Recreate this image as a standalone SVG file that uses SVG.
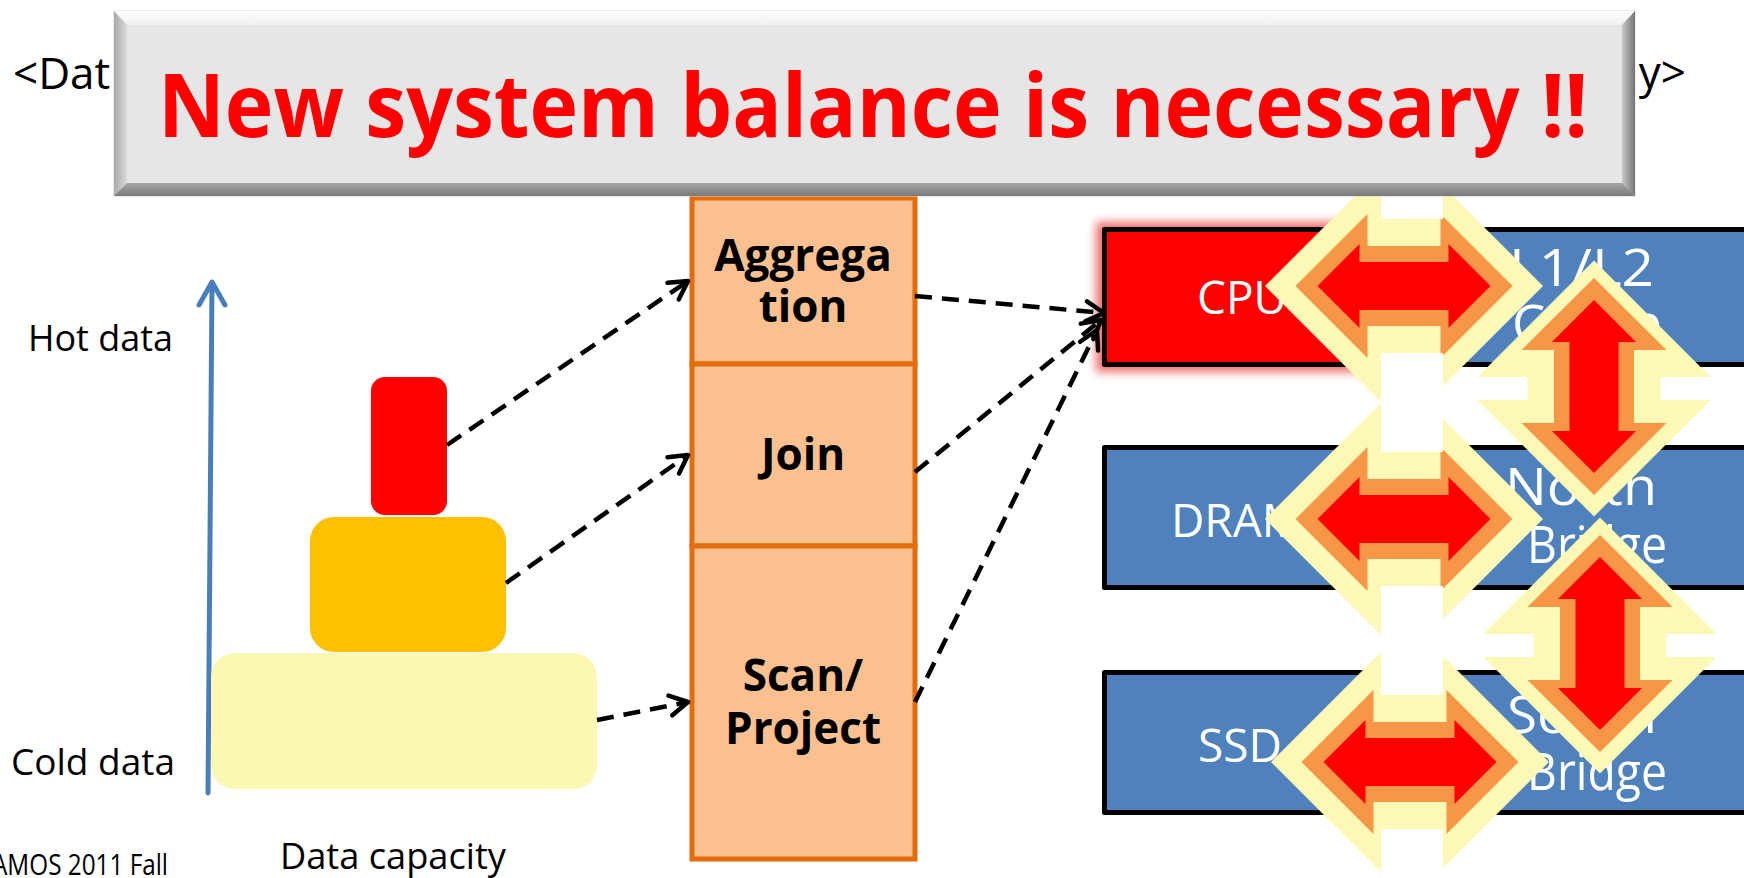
<svg xmlns="http://www.w3.org/2000/svg" xmlns:xlink="http://www.w3.org/1999/xlink" width="1744" height="878" viewBox="0 0 1744 878">
  <style>
    .lbl { font-family: "Open Sans", "Noto Sans", "DejaVu Sans", sans-serif; fill: #000; }
    .side { font-size: 37px; }
    .op { font-family: "Open Sans", "Noto Sans", sans-serif; font-weight: bold; font-size: 44px; fill: #000; text-anchor: middle; }
    .hw { font-family: "Open Sans", "Noto Sans", sans-serif; font-size: 46px; fill: #fff; text-anchor: middle; }
    .hwr { font-family: "Open Sans", "Noto Sans", sans-serif; font-size: 51px; fill: #fff; }
    .box { stroke: #000; stroke-width: 5; stroke-linejoin: round; }
    .blue { fill: #4F81BD; }
    .cell { fill: #FAC090; stroke: #E46C0A; stroke-width: 5; }
    .dash { fill: none; stroke: #000; stroke-width: 4.5; stroke-dasharray: 17 10; marker-end: url(#open); }
    .yel { fill: #FCF8B5; }
    .org { fill: #F79646; }
    .red { fill: #FF0000; }
    .gap { fill: #fff; }
  </style>
  <defs>
    <marker id="open" viewBox="-22 -13 26 26" refX="0" refY="0" markerWidth="26" markerHeight="26" markerUnits="userSpaceOnUse" orient="auto">
      <path d="M-18,-10 L0,0 L-18,10" fill="none" stroke="#000" stroke-width="4.5" stroke-dasharray="none" stroke-linecap="round" stroke-linejoin="round"/>
    </marker>
    <filter id="soft" x="-20%" y="-30%" width="140%" height="160%">
      <feGaussianBlur stdDeviation="5"/>
    </filter>
    <linearGradient id="bvTop" x1="0" y1="0" x2="0" y2="1"><stop offset="0" stop-color="#FFFFFF"/><stop offset="1" stop-color="#F0F0F0"/></linearGradient>
    <linearGradient id="bvLeft" x1="0" y1="0" x2="1" y2="0"><stop offset="0" stop-color="#A9A9A9"/><stop offset="1" stop-color="#DADADA"/></linearGradient>
    <linearGradient id="bvRight" x1="0" y1="0" x2="1" y2="0"><stop offset="0" stop-color="#C9C9C9"/><stop offset="1" stop-color="#737373"/></linearGradient>
    <linearGradient id="bvBottom" x1="0" y1="0" x2="0" y2="1"><stop offset="0" stop-color="#A5A5A5"/><stop offset="1" stop-color="#7A7A7A"/></linearGradient>
    <!-- horizontal double arrow: glow, outline, body -->
    <g id="harrow">
      <polygon class="yel" points="-139,0 0,-139 139,0 0,139"/>
      <polygon class="org" points="-108.5,0 -36.5,-72 -36.5,-40 36.5,-40 36.5,-72 108.5,0 36.5,72 36.5,40 -36.5,40 -36.5,72"/>
      <polygon class="red" points="-86.5,0 -44.5,-42 -44.5,-24 44.5,-24 44.5,-42 86.5,0 44.5,42 44.5,24 -44.5,24 -44.5,42"/>
    </g>
    <!-- vertical double arrow -->
    <g id="varrow">
      <polygon class="yel" points="0,-126 116.5,-9.5 116.5,13.5 0,130 -116.5,13.5 -116.5,-9.5"/>
      <rect class="gap" x="-118" y="-9.5" width="51.5" height="23"/>
      <rect class="gap" x="66.5" y="-9.5" width="51.5" height="23"/>
      <polygon class="org" points="0,-108.5 72.5,-36.5 40,-36.5 40,36.5 72.5,36.5 0,108.5 -72.5,36.5 -40,36.5 -40,-36.5 -72.5,-36.5"/>
      <polygon class="red" points="0,-86.5 42,-44.5 24.5,-44.5 24.5,44.5 42,44.5 0,86.5 -42,44.5 -24.5,44.5 -24.5,-44.5 -42,-44.5"/>
    </g>
  </defs>

  <rect width="1744" height="878" fill="#fff"/>

  <!-- heading fragments left of and right of the banner -->
  <g id="headings">
    <text class="lbl" x="13" y="89" font-size="44">&lt;Dat</text>
    <text class="lbl" x="1686" y="88" font-size="44" text-anchor="end">y&gt;</text>
  </g>

  <!-- temperature axis -->
  <g id="axis">
    <line x1="208" y1="793" x2="212" y2="284" stroke="#4A7EBB" stroke-width="5" stroke-linecap="round"/>
    <polyline points="199,305 212,282 225,305" fill="none" stroke="#4A7EBB" stroke-width="5" stroke-linecap="round" stroke-linejoin="round"/>
    <text class="lbl side" x="28" y="351" textLength="145" lengthAdjust="spacingAndGlyphs">Hot data</text>
    <text class="lbl side" x="11" y="775" textLength="164" lengthAdjust="spacingAndGlyphs">Cold data</text>
    <text class="lbl side" x="280" y="869" textLength="226" lengthAdjust="spacingAndGlyphs">Data capacity</text>
  </g>

  <!-- data pyramid -->
  <g id="data-hot"><rect x="371" y="377" width="76" height="138" rx="14" fill="#FF0000"/></g>
  <g id="data-warm"><rect x="310" y="517" width="196" height="135" rx="24" fill="#FFC000"/></g>
  <g id="data-cold"><rect x="211" y="653" width="386" height="136" rx="24" fill="#FBF8B4"/></g>

  <!-- operator stack -->
  <g id="op-aggregation">
    <rect class="cell" x="692" y="198" width="223" height="166"/>
    <text class="op" x="803" y="271">Aggrega</text>
    <text class="op" x="803" y="322">tion</text>
  </g>
  <g id="op-join">
    <rect class="cell" x="692" y="364" width="223" height="182"/>
    <text class="op" x="803" y="470">Join</text>
  </g>
  <g id="op-scan">
    <rect class="cell" x="692" y="546" width="223" height="313"/>
    <text class="op" x="803" y="691">Scan/</text>
    <text class="op" x="803" y="744">Project</text>
  </g>

  <!-- hardware blocks -->
  <g id="cpu">
    <rect x="1096" y="222" width="292" height="150" fill="#E83A3A" opacity="0.75" filter="url(#soft)"/>
    <rect class="box" x="1104.5" y="229.5" width="276" height="135" fill="#FF0000"/>
    <text class="hw" x="1242" y="314">CPU</text>
  </g>
  <g id="cache">
    <rect class="box blue" x="1400" y="229.5" width="370" height="135"/>
    <text class="hwr" x="1509" y="286" textLength="145" lengthAdjust="spacingAndGlyphs">L1/L2</text>
    <text class="hwr" x="1512" y="342" textLength="150" lengthAdjust="spacingAndGlyphs">Cache</text>
  </g>
  <g id="dram">
    <rect class="box blue" x="1104.5" y="447.5" width="276" height="140"/>
    <text class="hw" x="1237" y="537">DRAM</text>
  </g>
  <g id="northbridge">
    <rect class="box blue" x="1400" y="447.5" width="370" height="140"/>
    <text class="hwr" x="1505" y="505" textLength="152" lengthAdjust="spacingAndGlyphs">North</text>
    <text class="hwr" x="1527" y="563" textLength="140" lengthAdjust="spacingAndGlyphs">Bridge</text>
  </g>
  <g id="ssd">
    <rect class="box blue" x="1104.5" y="672.5" width="276" height="140"/>
    <text class="hw" x="1240" y="762">SSD</text>
  </g>
  <g id="southbridge">
    <rect class="box blue" x="1400" y="672.5" width="370" height="140"/>
    <text class="hwr" x="1507" y="733" textLength="150" lengthAdjust="spacingAndGlyphs">South</text>
    <text class="hwr" x="1527" y="790" textLength="140" lengthAdjust="spacingAndGlyphs">Bridge</text>
  </g>

  <!-- dashed flows -->
  <g id="connectors">
    <line class="dash" x1="447" y1="445" x2="688" y2="281"/>
    <line class="dash" x1="506" y1="583" x2="688" y2="455"/>
    <line class="dash" x1="597" y1="720" x2="688" y2="702"/>
    <line class="dash" x1="915" y1="296" x2="1104" y2="313"/>
    <line class="dash" x1="915" y1="472" x2="1101" y2="320"/>
    <line class="dash" x1="915" y1="702" x2="1097" y2="330"/>
  </g>

  <!-- bus links between blocks -->
  <g id="links">
    <use xlink:href="#harrow" x="1404" y="286"/>
    <use xlink:href="#harrow" x="1404" y="519"/>
    <use xlink:href="#harrow" x="1410" y="762"/>
    <rect class="gap" x="1381" y="190" width="62" height="29"/>
    <rect class="gap" x="1381" y="353" width="62" height="99"/>
    <rect class="gap" x="1381" y="586" width="62" height="109"/>
    <rect class="gap" x="1381" y="829" width="62" height="49"/>
    <use xlink:href="#varrow" x="1594" y="386.5"/>
    <use xlink:href="#varrow" x="1600" y="643.5"/>
  </g>

  <!-- bevelled banner -->
  <g id="banner">
    <rect x="113.5" y="10.5" width="1522" height="186" fill="#D8D8D8"/>
    <polygon points="114,11 1635,11 1622,25 127,25" fill="url(#bvTop)"/>
    <polygon points="114,11 127,25 127,183 114,196" fill="url(#bvLeft)"/>
    <polygon points="1635,11 1635,196 1622,183 1622,25" fill="url(#bvRight)"/>
    <polygon points="114,196 127,183 1622,183 1635,196" fill="url(#bvBottom)"/>
    <rect x="127" y="25" width="1495" height="158" fill="#E6E6E6"/>
    <text x="158" y="137" font-family="'Open Sans', 'Noto Sans', sans-serif" font-weight="bold" font-size="88" fill="#FF0000" textLength="1430" lengthAdjust="spacingAndGlyphs">New system balance is necessary !!</text>
  </g>

  <g id="footer">
    <text class="lbl" x="-8" y="875" font-size="29" fill="#7F7F7F" textLength="176" lengthAdjust="spacingAndGlyphs">AMOS 2011 Fall</text>
  </g>
</svg>
